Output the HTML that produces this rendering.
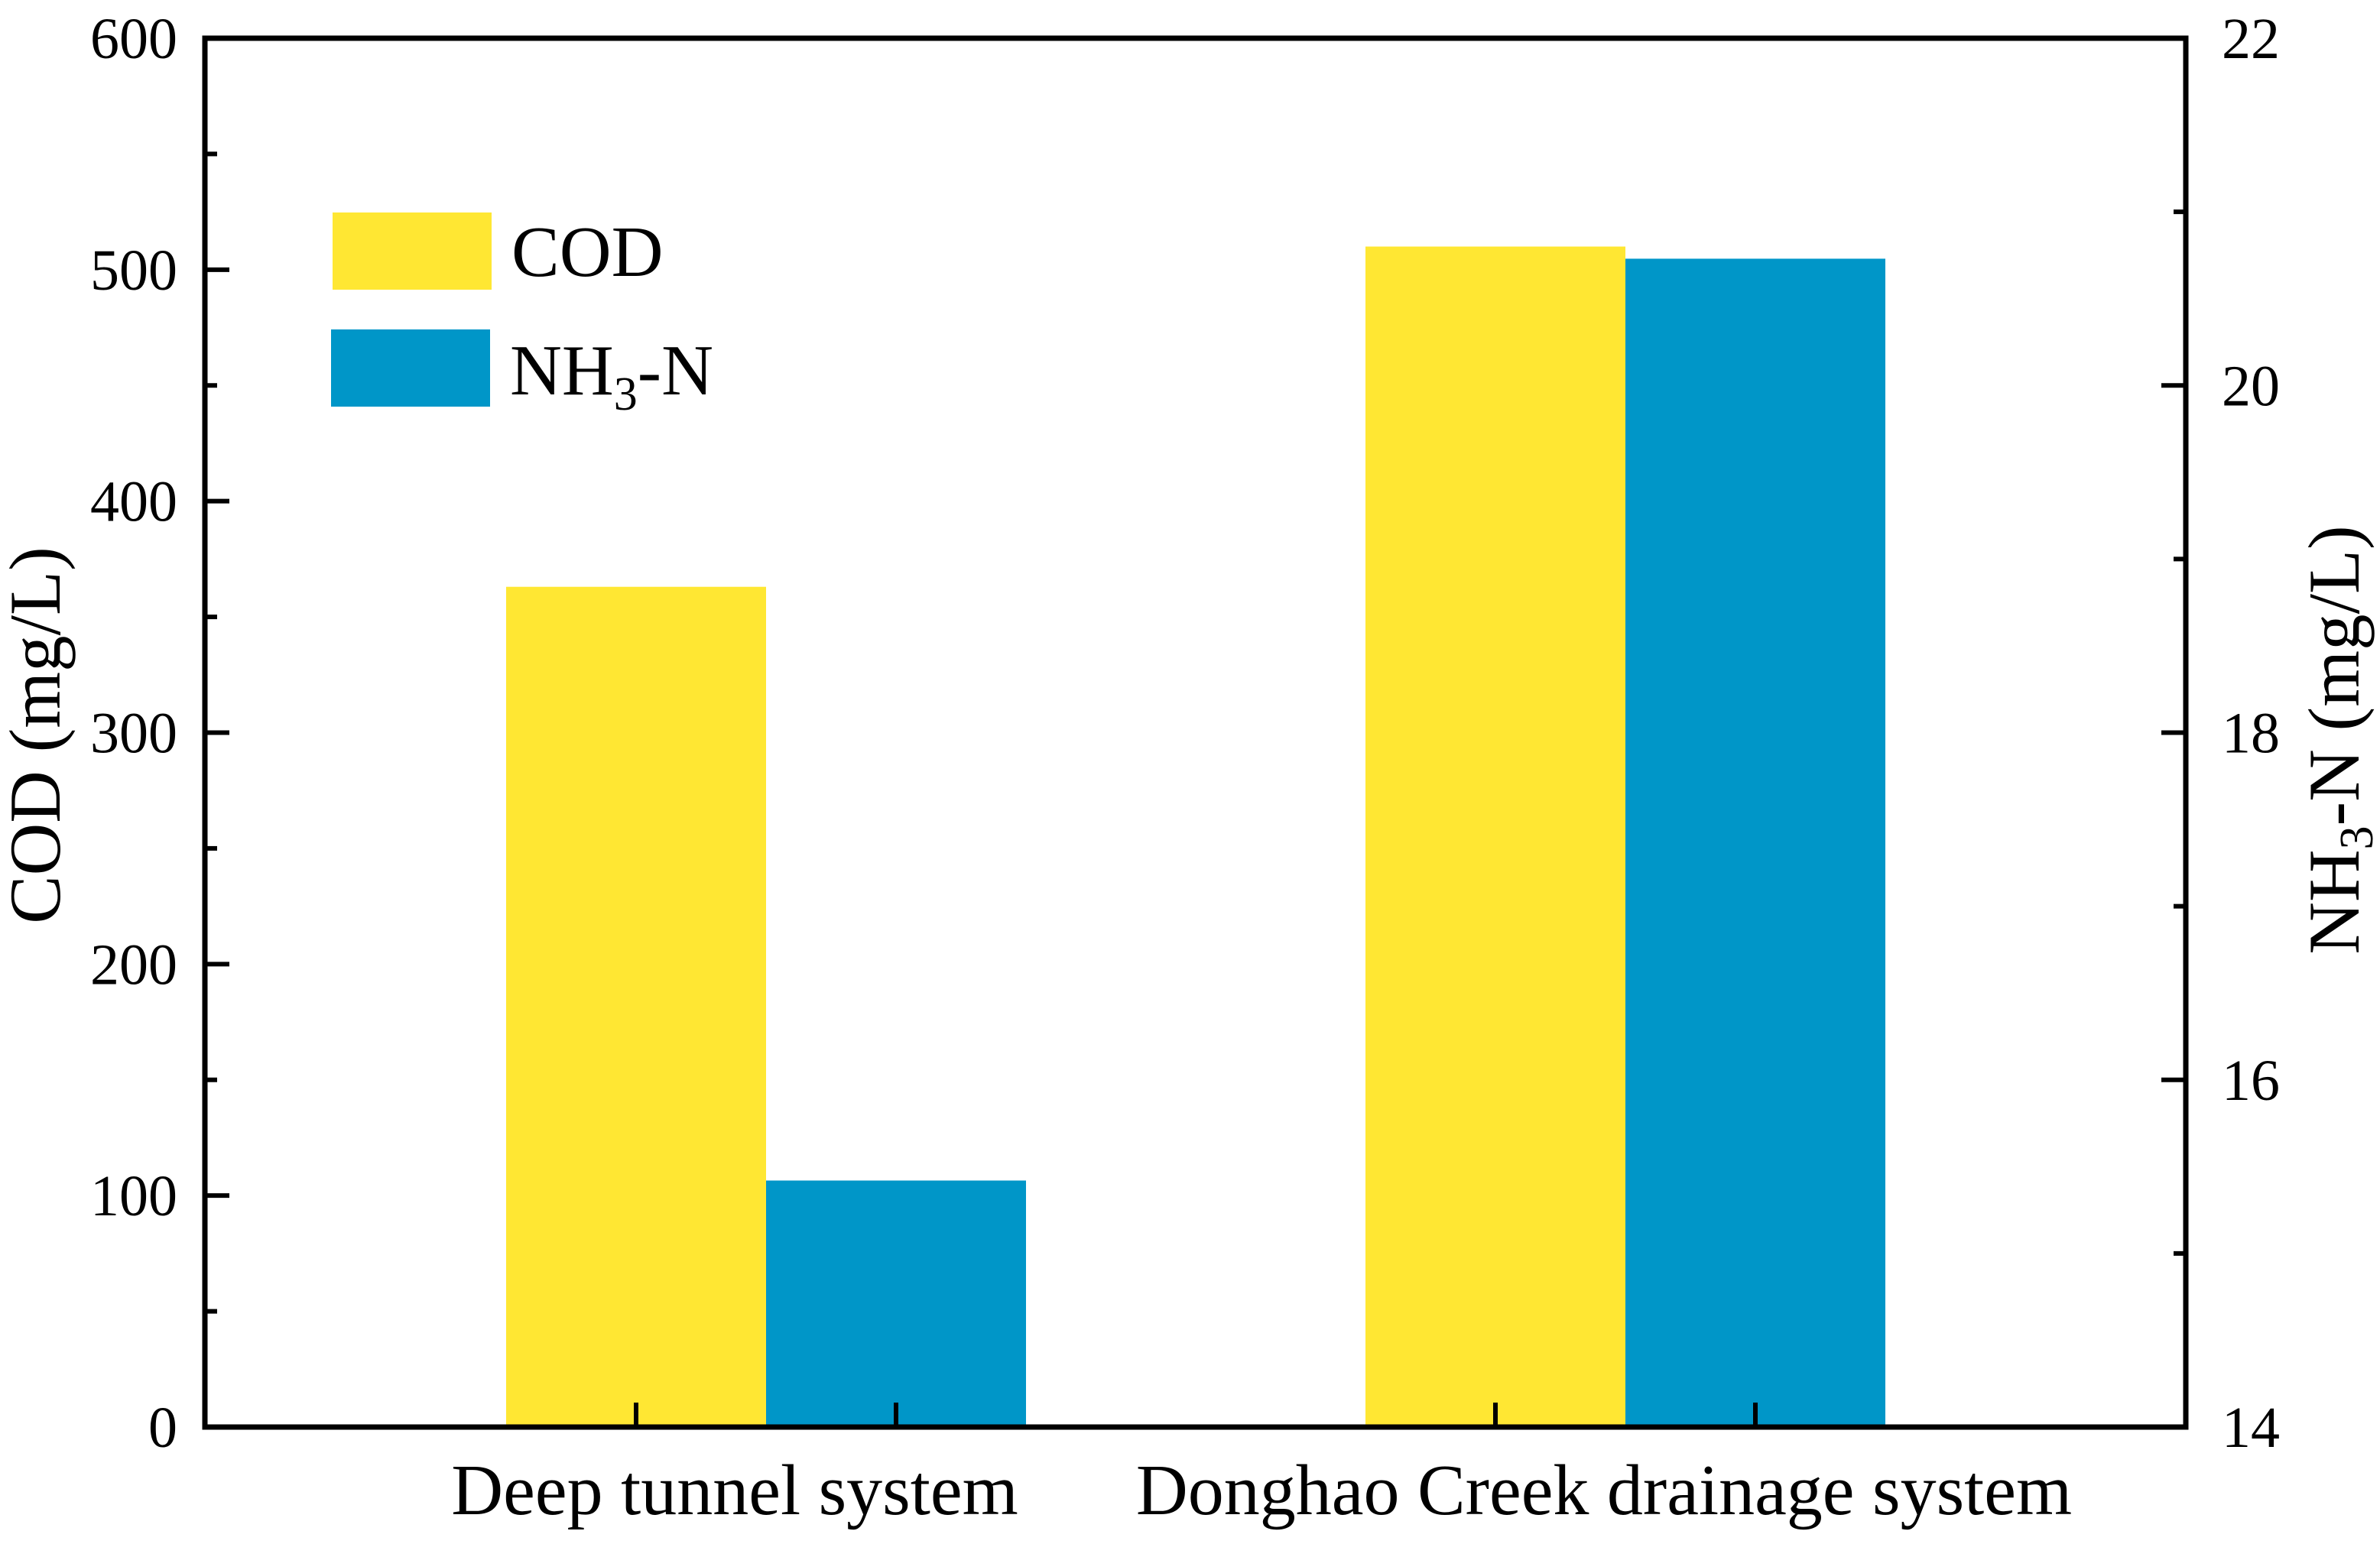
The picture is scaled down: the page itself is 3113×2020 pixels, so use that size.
<!DOCTYPE html>
<html><head><meta charset="utf-8"><style>
body{margin:0;background:#fff}
text{font-family:"Liberation Serif",serif;fill:#000}
</style></head><body>
<svg id="chart" width="3113" height="2015" xmlns="http://www.w3.org/2000/svg">
<g id="bars"></g>
<g id="axes"></g>
</svg>
<script>
const categories=["Deep tunnel system","Donghao Creek drainage system"];
const codValues=[363,510];
const nh3Values=[15.42,20.73];
const leftTicks=[0,100,200,300,400,500,600];
const rightTicks=[14,16,18,20,22];
const L=268,R=2859,T=50,B=1867;
const yL=v=>B-(v-0)/600*(B-T);
const yR=v=>B-(v-14)/8*(B-T);
const xC=i=>1002+i*1124;
const BW=340;
const NS="http://www.w3.org/2000/svg";
function mk(tag,attrs,parent,txt){const e=document.createElementNS(NS,tag);for(const k in attrs)e.setAttribute(k,attrs[k]);if(txt!==undefined)e.textContent=txt;parent.appendChild(e);return e;}
const bars=document.getElementById('bars'),axes=document.getElementById('axes');
categories.forEach((c,i)=>{
 let b=mk('rect',{x:xC(i)-BW,y:yL(codValues[i]),width:BW,height:B-yL(codValues[i]),fill:'#ffe733'},bars);
 
 
 let n=mk('rect',{x:xC(i),y:yR(nh3Values[i]),width:BW,height:B-yR(nh3Values[i]),fill:'#0096c8'},bars);
 
 
 [xC(i)-BW/2,xC(i)+BW/2].forEach(x=>mk('line',{x1:x,x2:x,y1:B,y2:B-32,stroke:'#000','stroke-width':6},axes));
 let t=mk('text',{x:xC(i)-(i?28:41),y:1981,'text-anchor':'middle','font-size':94},axes,c);
 
 
});
let frame=mk('rect',{x:L,y:T,width:R-L,height:B-T,fill:'none',stroke:'#000','stroke-width':7},axes);


leftTicks.forEach(v=>{
 mk('line',{x1:L,x2:L+32,y1:yL(v),y2:yL(v),stroke:'#000','stroke-width':6},axes);
 if(v<600)mk('line',{x1:L,x2:L+16,y1:yL(v+50),y2:yL(v+50),stroke:'#000','stroke-width':6},axes);
 let t=mk('text',{x:232,y:yL(v)+26,'text-anchor':'end','font-size':76},axes,v);
 
 
});
rightTicks.forEach(v=>{
 mk('line',{x1:R,x2:R-32,y1:yR(v),y2:yR(v),stroke:'#000','stroke-width':6},axes);
 if(v<22)mk('line',{x1:R,x2:R-16,y1:yR(v+1),y2:yR(v+1),stroke:'#000','stroke-width':6},axes);
 let t=mk('text',{x:2906,y:yR(v)+26,'font-size':76},axes,v);
 
 
});
</script>
<svg style="position:absolute;left:0;top:0" width="3113" height="2015" xmlns="http://www.w3.org/2000/svg">
<text transform="translate(78,962) rotate(-90)" text-anchor="middle" font-size="95">COD (mg/L)</text>
<text transform="translate(3085,968) rotate(-90)" text-anchor="middle" font-size="95">NH<tspan font-size="62" dy="18">3</tspan><tspan dy="-18">-N (mg/L)</tspan></text>
<g>
<rect x="435" y="278" width="208" height="101" fill="#ffe733"/>
<text x="669" y="361" font-size="94">COD</text>
<rect x="433" y="431" width="208" height="101" fill="#0096c8"/>
<text x="667" y="516" font-size="94">NH<tspan font-size="62" dy="20">3</tspan><tspan dy="-20">-N</tspan></text>
</g>
</svg>
</body></html>
